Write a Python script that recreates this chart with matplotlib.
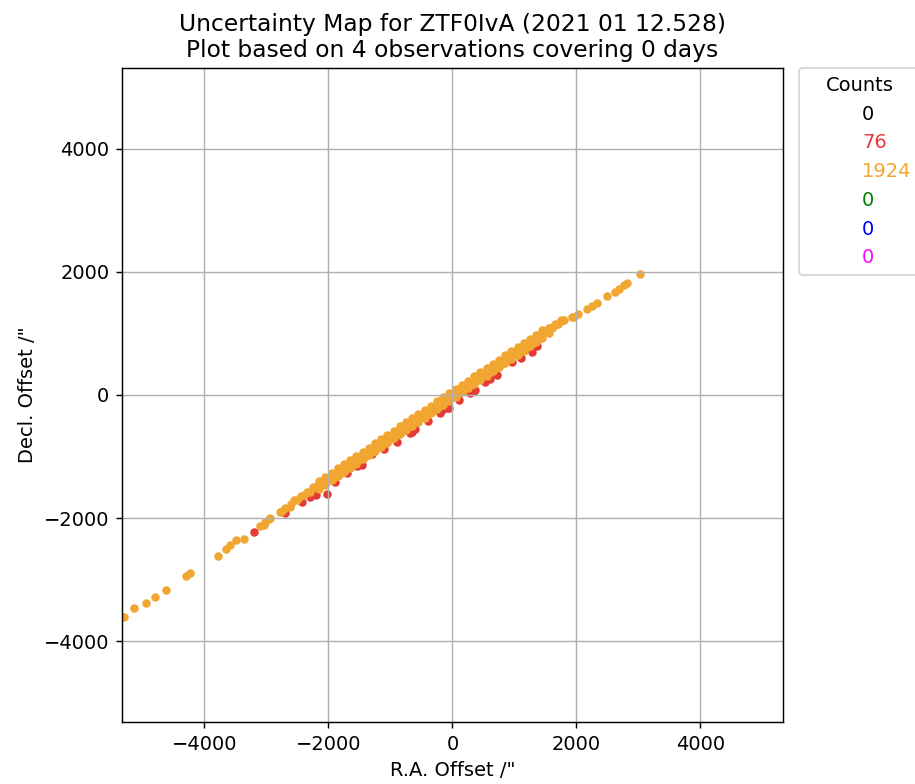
import matplotlib
matplotlib.use("Agg")
import matplotlib.pyplot as plt
from matplotlib.lines import Line2D

# ---------------- data ----------------
title_text = "Uncertainty Map for ZTF0IvA (2021 01 12.528)\nPlot based on 4 observations covering 0 days"
legend_labels = ["0", "76", "1924", "0", "0", "0"]
legend_colors = ["black", "#e8393a", "#f2a632", "green", "blue", "magenta"]

# red points (visible ones along the lower edge of the band)
red_x = [-3205, -2694, -2424, -2290, -2200, -2021, -1900, -1699, -1537, -1457,
         -1295, -1100, -900, -677, -650, -597, -400, -194, -166, -86, -60,
         100, 290, 344, 371, 532, 600, 721, 963, 1100, 1286, 1366]
red_y = [-2230, -1920, -1732, -1655, -1620, -1615, -1420, -1271, -1160, -1136,
         -958, -880, -760, -612, -595, -557, -420, -297, -250, -216, -216,
         -80, 27, 60, 81, 205, 260, 325, 530, 600, 703, 790]

# orange points: sparse tails
orange_tail_x = [-5300, -5140, -4935, -4790, -4613, -4290, -4226, -3786, -3650,
                 -3592, -3484, -3366, -3108, -3043, -3016, -2963, -2936, -2774,
                 -2747, -2694, -2613,
                 1930, 1957, 2032, 2173, 2253, 2334, 2495, 2629, 2683, 2763,
                 2818, 3032]
orange_tail_y = [-3598, -3463, -3371, -3278, -3165, -2933, -2884, -2608, -2505,
                 -2435, -2353, -2337, -2126, -2110, -2056, -2018, -2001, -1894,
                 -1880, -1839, -1813,
                 1271, 1261, 1315, 1391, 1444, 1488, 1612, 1667, 1715, 1785,
                 1813, 1962]

# orange points: dense band (centre row)
band_mid_x = [-2600, -2500, -2400, -2300, -2200, -2100, -2000, -1900, -1800,
              -1700, -1600, -1500, -1400, -1300, -1200, -1100, -1000, -900,
              -800, -700, -600, -500, -400, -300, -200, -100, 0, 100, 200, 300,
              400, 500, 600, 700, 800, 900, 1000, 1100, 1200, 1300, 1400, 1500,
              1600, 1700, 1800]
band_mid_y = [-1765, -1702, -1628, -1570, -1490, -1432, -1355, -1296, -1220,
              -1160, -1085, -1024, -948, -888, -812, -752, -676, -615, -540,
              -480, -404, -344, -268, -208, -132, -72, 4, 64, 140, 200, 276,
              336, 412, 472, 548, 608, 684, 744, 820, 880, 956, 1016, 1092,
              1150, 1220]

# orange points: dense band (second centre row, staggered)
band_mid2_x = [-2550, -2450, -2350, -2250, -2150, -2050, -1950, -1850, -1750,
               -1650, -1550, -1450, -1350, -1250, -1150, -1050, -950, -850,
               -750, -650, -550, -450, -350, -250, -150, -50, 50, 150, 250,
               350, 450, 550, 650, 750, 850, 950, 1050, 1150, 1250, 1350, 1450,
               1550, 1650, 1750]
band_mid2_y = [-1704, -1636, -1568, -1500, -1432, -1364, -1296, -1228, -1160,
               -1092, -1024, -956, -888, -820, -752, -684, -616, -548, -480,
               -412, -344, -276, -208, -140, -72, -4, 64, 132, 200, 268, 336,
               404, 472, 540, 608, 676, 744, 812, 880, 948, 1016, 1084, 1142,
               1200]

# orange points: dense band (upper edge)
band_up_x = [-2150, -2050, -1950, -1850, -1750, -1650, -1550, -1450, -1350,
             -1250, -1150, -1050, -950, -850, -750, -650, -550, -450, -350,
             -250, -150, -50, 50, 150, 250, 350, 450, 550, 650, 750, 850, 950,
             1050, 1150, 1250, 1350, 1450, 1550, 1650, 1750]
band_up_y = [-1397, -1325, -1261, -1190, -1125, -1060, -989, -918, -853, -785,
             -717, -652, -581, -510, -445, -377, -309, -244, -173, -105, -37,
             31, 99, 164, 235, 303, 371, 436, 507, 575, 643, 708, 779, 847,
             915, 980, 1051, 1094, 1152, 1210]

# orange points: dense band (lower-middle row)
band_lo2_x = [-2100, -2000, -1900, -1800, -1700, -1600, -1500, -1400, -1300,
              -1200, -1100, -1000, -900, -800, -700, -600, -500, -400, -300,
              -200, -100, 0, 100, 200, 300, 400, 500, 600, 700, 800, 900, 1000,
              1100, 1200, 1300, 1400]
band_lo2_y = [-1463, -1395, -1327, -1259, -1191, -1123, -1055, -987, -919,
              -851, -783, -715, -647, -579, -511, -443, -375, -307, -239, -171,
              -103, -35, 33, 101, 169, 237, 305, 373, 441, 509, 577, 645, 713,
              781, 849, 917]

# orange points: dense band (lower edge)
band_lo_x = [-2150, -2050, -1950, -1850, -1750, -1650, -1550, -1450, -1350,
             -1250, -1150, -1050, -950, -850, -750, -650, -550, -450, -350,
             -250, -150, -50, 50, 150, 250, 350, 450, 550, 650, 750, 850, 950,
             1050, 1150, 1250, 1350, 1450, 1550]
band_lo_y = [-1522, -1454, -1386, -1318, -1250, -1182, -1114, -1046, -978,
             -910, -842, -774, -706, -638, -570, -502, -434, -366, -298, -230,
             -162, -94, -26, 42, 110, 178, 246, 314, 382, 450, 518, 586, 654,
             722, 790, 858, 926, 1014]

# ---------------- figure ----------------
plt.rcParams["font.size"] = 10.8
fig = plt.figure(figsize=(915 / 130, 784 / 130), dpi=130)
ax = fig.add_axes([0.1333, 0.0791, 0.7224, 0.8342])

red_col = "#e53a36"
orange_col = "#f2a632"
msize = 22

ax.scatter(red_x, red_y, s=msize, color=red_col, linewidths=0, zorder=1)
orange_x = (orange_tail_x + band_mid_x + band_mid2_x + band_up_x
            + band_lo2_x + band_lo_x)
orange_y = (orange_tail_y + band_mid_y + band_mid2_y + band_up_y
            + band_lo2_y + band_lo_y)
ax.scatter(orange_x, orange_y, s=msize, color=orange_col, linewidths=0, zorder=1)

ax.set_xlim(-5330, 5330)
ax.set_ylim(-5310, 5310)
ax.set_xticks([-4000, -2000, 0, 2000, 4000])
ax.set_yticks([-4000, -2000, 0, 2000, 4000])
ax.grid(True)
ax.set_xlabel('R.A. Offset /"')
ax.set_ylabel('Decl. Offset /"')
ax.set_title(title_text)

handles = [Line2D([], [], linestyle="none", marker="") for _ in legend_labels]
ax.legend(handles, legend_labels, title="Counts", loc="upper left",
          bbox_to_anchor=(1.025, 1.0), borderaxespad=0,
          labelcolor=legend_colors)

fig.savefig("out.png", dpi=130)
